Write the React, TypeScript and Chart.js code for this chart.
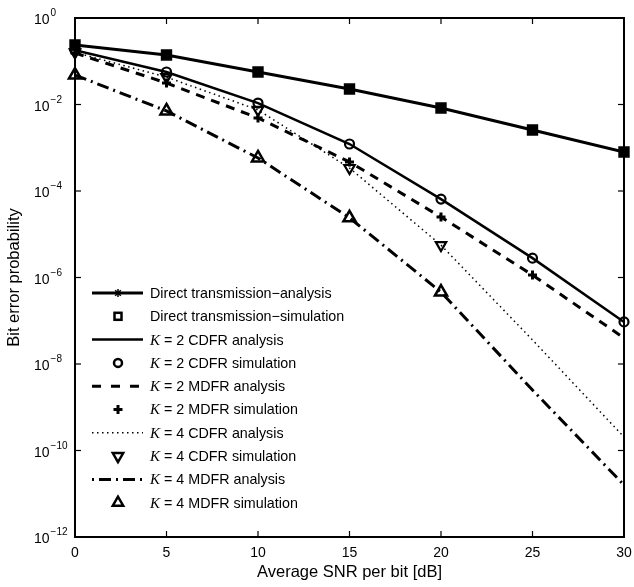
import React, { useEffect, useRef } from 'react';
import { Chart, registerables } from 'chart.js';

Chart.register(...registerables);

// ---------- data ----------
const snrDb = [0, 5, 10, 15, 20, 25, 30];

const directAnalysis = [0.238, 0.14, 0.0564, 0.0228, 0.0083, 0.00257, 0.0008];
const directSimulation = [0.238, 0.14, 0.0564, 0.0228, 0.0083, 0.00257, 0.0008];

const k2CdfrAnalysis = [0.18, 0.0564, 0.0108, 0.00122, 6.5e-5, 2.8e-6, 9.4e-8];
const k2CdfrSimulation = [0.18, 0.0564, 0.0108, 0.00122, 6.5e-5, 2.8e-6, 9.4e-8];

const k2MdfrAnalysis = [0.155, 0.0314, 0.00487, 4.7e-4, 2.5e-5, 1.14e-6, 4.0e-8];
const k2MdfrSimulation = [0.155, 0.0314, 0.00487, 4.7e-4, 2.5e-5, 1.14e-6];

const k4CdfrAnalysis = [0.16, 0.043, 0.0075, 3.4e-4, 5.6e-6, 3.6e-8, 2.05e-10];
const k4CdfrSimulation = [0.16, 0.043, 0.0075, 3.4e-4, 5.6e-6];

const k4MdfrAnalysis = [0.048, 0.0071, 5.8e-4, 2.4e-5, 4.6e-7, 2.5e-9, 1.6e-11];
const k4MdfrSimulation = [0.048, 0.0071, 5.8e-4, 2.4e-5, 4.6e-7];

const seriesNames = [
  'Direct transmission\u2212analysis',
  'Direct transmission\u2212simulation',
  'K = 2 CDFR analysis',
  'K = 2 CDFR simulation',
  'K = 2 MDFR analysis',
  'K = 2 MDFR simulation',
  'K = 4 CDFR analysis',
  'K = 4 CDFR simulation',
  'K = 4 MDFR analysis',
  'K = 4 MDFR simulation',
];

const xTickValues = [0, 5, 10, 15, 20, 25, 30];
const yTickExponents = [0, -2, -4, -6, -8, -10, -12];
const xAxisTitle = 'Average SNR per bit [dB]';
const yAxisTitle = 'Bit error probability';

// ---------- helpers ----------
const pts = (ys: number[]) => ys.map((y, i) => ({ x: snrDb[i], y }));

const SANS = '"Liberation Sans", Arial, sans-serif';
const SERIF = '"Liberation Serif", "Times New Roman", serif';

const DASH = [9, 7];
const DOT = [1.5, 3.5];
const DASHDOT = [12, 5, 2, 5];

type LegendKind = 'lineStar' | 'square' | 'solid' | 'circle' | 'dash' | 'plus' | 'dot' | 'tdown' | 'dashdot' | 'tup';
const legendKinds: LegendKind[] = ['lineStar', 'square', 'solid', 'circle', 'dash', 'plus', 'dot', 'tdown', 'dashdot', 'tup'];

const framePlugin = {
  id: 'matlabFrame',
  afterDraw(chart: any) {
    const { ctx, chartArea: a, scales } = chart;
    const xs = scales.x;
    const ys = scales.y;
    ctx.save();
    ctx.strokeStyle = '#000';
    ctx.fillStyle = '#000';
    ctx.setLineDash([]);
    // frame
    ctx.lineWidth = 2;
    ctx.strokeRect(a.left, a.top, a.right - a.left, a.bottom - a.top);
    // ticks
    ctx.lineWidth = 1.2;
    const seg = (x1: number, y1: number, x2: number, y2: number) => {
      ctx.beginPath();
      ctx.moveTo(x1, y1);
      ctx.lineTo(x2, y2);
      ctx.stroke();
    };
    for (const v of xTickValues) {
      const px = xs.getPixelForValue(v);
      seg(px, a.bottom, px, a.bottom - 6);
      seg(px, a.top, px, a.top + 6);
    }
    for (const e of yTickExponents) {
      const py = ys.getPixelForValue(Math.pow(10, e));
      seg(a.left, py, a.left + 6, py);
      seg(a.right, py, a.right - 6, py);
    }
    // y tick labels 10^e
    ctx.textAlign = 'left';
    ctx.textBaseline = 'alphabetic';
    for (const e of yTickExponents) {
      const py = ys.getPixelForValue(Math.pow(10, e));
      ctx.font = `14px ${SANS}`;
      const baseX = 34;
      ctx.fillText('10', baseX, py + 6);
      const w = ctx.measureText('10').width;
      ctx.font = `10px ${SANS}`;
      const expText = e === 0 ? '0' : '\u2212' + Math.abs(e);
      ctx.fillText(expText, baseX + w + 1, py - 2);
    }

    // legend
    const rowY0 = 293;
    const rowStep = 23.3;
    const lx1 = 92;
    const lx2 = 143;
    const mx = 118;
    const tx = 150;
    seriesNames.forEach((name, i) => {
      const y = rowY0 + i * rowStep;
      const kind = legendKinds[i];
      ctx.save();
      ctx.strokeStyle = '#000';
      ctx.fillStyle = '#000';
      const drawLine = (lw: number, dash: number[]) => {
        ctx.lineWidth = lw;
        ctx.setLineDash(dash);
        ctx.beginPath();
        ctx.moveTo(lx1, y);
        ctx.lineTo(lx2, y);
        ctx.stroke();
        ctx.setLineDash([]);
      };
      if (kind === 'lineStar') {
        drawLine(3, []);
        ctx.lineWidth = 1.5;
        for (let k = 0; k < 4; k++) {
          const ang = (k * Math.PI) / 4;
          seg(mx - 4 * Math.cos(ang), y - 4 * Math.sin(ang), mx + 4 * Math.cos(ang), y + 4 * Math.sin(ang));
        }
      } else if (kind === 'square') {
        ctx.lineWidth = 2.5;
        ctx.strokeRect(mx - 3.5, y - 3.5, 7, 7);
      } else if (kind === 'solid') {
        drawLine(2.5, []);
      } else if (kind === 'circle') {
        ctx.lineWidth = 2.5;
        ctx.beginPath();
        ctx.arc(mx, y, 4, 0, Math.PI * 2);
        ctx.stroke();
      } else if (kind === 'dash') {
        drawLine(3, [9, 10]);
      } else if (kind === 'plus') {
        ctx.lineWidth = 3;
        seg(mx - 4.5, y, mx + 4.5, y);
        seg(mx, y - 4.5, mx, y + 4.5);
      } else if (kind === 'dot') {
        drawLine(1.5, DOT);
      } else if (kind === 'tdown' || kind === 'tup') {
        ctx.lineWidth = 2.5;
        const r = 6;
        const s = kind === 'tup' ? -1 : 1;
        ctx.beginPath();
        ctx.moveTo(mx, y + s * r);
        ctx.lineTo(mx - r * 0.866, y - s * r * 0.5);
        ctx.lineTo(mx + r * 0.866, y - s * r * 0.5);
        ctx.closePath();
        ctx.stroke();
      } else if (kind === 'dashdot') {
        drawLine(3, [2, 5, 12, 5]);
      }
      ctx.restore();
      ctx.fillStyle = '#000';
      ctx.textBaseline = 'middle';
      ctx.textAlign = 'left';
      if (name.startsWith('K ')) {
        ctx.font = `italic 15px ${SERIF}`;
        ctx.fillText('K', tx, y + 1);
        const kw = ctx.measureText('K').width;
        ctx.font = `14.3px ${SANS}`;
        ctx.fillText(name.slice(1), tx + kw, y + 1);
      } else {
        ctx.font = `14.3px ${SANS}`;
        ctx.fillText(name, tx, y + 1);
      }
    });
    ctx.restore();
  },
};

export default function App() {
  const canvasRef = useRef<HTMLCanvasElement | null>(null);

  useEffect(() => {
    if (!canvasRef.current) return;
    const black = '#000';
    const lineDs = (label: string, ys: number[], width: number, dash: number[], extra: any = {}) => ({
      label,
      data: pts(ys),
      borderColor: black,
      backgroundColor: black,
      borderWidth: width,
      borderDash: dash,
      pointRadius: 0,
      showLine: true,
      fill: false,
      tension: 0,
      ...extra,
    });
    const markDs = (label: string, ys: number[], style: string, radius: number, width: number, extra: any = {}) => ({
      label,
      data: pts(ys),
      borderColor: black,
      backgroundColor: 'rgba(0,0,0,0)',
      pointBorderColor: black,
      pointBackgroundColor: 'rgba(0,0,0,0)',
      pointStyle: style,
      pointRadius: radius,
      pointBorderWidth: width,
      showLine: false,
      clip: false,
      ...extra,
    });

    const chart = new Chart(canvasRef.current, {
      type: 'line',
      data: {
        datasets: [
          lineDs(seriesNames[0], directAnalysis, 3, [], {
            pointRadius: 3,
            pointStyle: 'star',
            pointBorderWidth: 1.5,
            pointBorderColor: black,
          }),
          markDs(seriesNames[1], directSimulation, 'rect', 7, 1.5, { pointBackgroundColor: black }),
          lineDs(seriesNames[2], k2CdfrAnalysis, 2.5, []),
          markDs(seriesNames[3], k2CdfrSimulation, 'circle', 4.5, 2.2),
          lineDs(seriesNames[4], k2MdfrAnalysis, 3, DASH),
          markDs(seriesNames[5], k2MdfrSimulation, 'cross', 4.5, 3),
          lineDs(seriesNames[6], k4CdfrAnalysis, 1.5, DOT),
          markDs(seriesNames[7], k4CdfrSimulation, 'triangle', 6, 2.2, { pointRotation: 180 }),
          lineDs(seriesNames[8], k4MdfrAnalysis, 3, DASHDOT),
          markDs(seriesNames[9], k4MdfrSimulation, 'triangle', 7, 2.5),
        ],
      },
      options: {
        animation: false,
        responsive: true,
        maintainAspectRatio: false,
        layout: { padding: { top: 18, right: 10, left: 0, bottom: 0 } },
        plugins: {
          legend: { display: false },
          tooltip: { enabled: false },
        },
        scales: {
          x: {
            type: 'linear',
            min: 0,
            max: 30,
            grid: { display: false, drawTicks: false },
            border: { display: false },
            ticks: {
              stepSize: 5,
              color: '#000',
              padding: 8,
              font: { family: SANS, size: 14 },
            },
            title: {
              display: true,
              text: xAxisTitle,
              color: '#000',
              font: { family: SANS, size: 16.5 },
              padding: { top: 0, bottom: 5 },
            },
            afterFit: (scale: any) => {
              scale.height = 50;
              scale.paddingLeft = 0;
              scale.paddingRight = 0;
            },
          },
          y: {
            type: 'logarithmic',
            min: 1e-12,
            max: 1,
            grid: { display: false, drawTicks: false },
            border: { display: false },
            ticks: { display: false },
            title: {
              display: true,
              text: yAxisTitle,
              color: '#000',
              font: { family: SANS, size: 16.5 },
              padding: { top: 5, bottom: 0 },
            },
            afterFit: (scale: any) => {
              scale.width = 75;
              scale.paddingTop = 0;
              scale.paddingBottom = 0;
            },
          },
        },
      } as any,
      plugins: [framePlugin],
    });
    return () => chart.destroy();
  }, []);

  return (
    <div style={{ position: 'fixed', left: 0, top: 0, width: 634, height: 587, background: '#fff' }}>
      <canvas ref={canvasRef} />
    </div>
  );
}
